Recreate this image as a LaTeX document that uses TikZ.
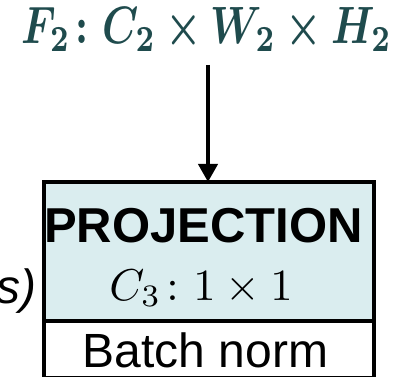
\documentclass[tikz,border=0pt]{standalone}
\usepackage{amsmath,bm}
\usepackage{graphicx}
\usepackage{fontspec}
\setmainfont{Liberation Sans}
\usetikzlibrary{arrows.meta}
\definecolor{teal1}{HTML}{1F4B4D}
\definecolor{projfill}{HTML}{DAEDEF}
\begin{document}
\begin{tikzpicture}[x=1pt,y=1pt,
  boxline/.style={draw=black,line width=4pt,inner sep=0pt,outer sep=0pt,minimum width=330pt},
  lbl/.style={inner sep=0pt,outer sep=0pt,anchor=base}]
\useasboundingbox (0,0) rectangle (410,-377);
\node[lbl,text=teal1] (title) at (207,-44) {\resizebox{370pt}{36pt}{$\bm{F_{\mathbf{2}}\colon C_{\mathbf{2}}\times W_{\mathbf{2}}\times H_{\mathbf{2}}}$}};
\node[boxline,fill=projfill,minimum height=139pt] (proj) at (209,-251.5) {};
\node[boxline,fill=white,minimum height=57pt,anchor=north] (bn) at (proj.south) {};
\node[lbl] (ptxt) at (203.5,-242) {\fontsize{49}{52}\selectfont\bfseries PROJECTION};
\node[lbl] (ctxt) at (201,-300) {\resizebox{183pt}{!}{$C_3\colon 1\times 1$}};
\node[lbl] (btxt) at (205.5,-367) {\fontsize{48}{52}\selectfont Batch norm};
\node[lbl,anchor=base east] (stxt) at (36,-303) {\fontsize{48}{52}\selectfont\itshape s)};
\coordinate (astart) at (208,-65);
\draw[line width=4pt,-{Triangle[width=19pt,length=18pt]}] (astart) -- (astart |- proj.north);
\end{tikzpicture}
\end{document}
